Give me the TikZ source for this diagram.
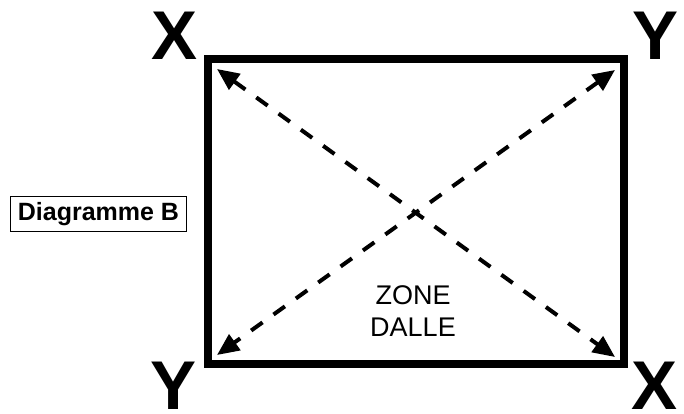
\documentclass[tikz,border=0pt]{standalone}
\usepackage{fontspec}
\setmainfont{Liberation Sans}
\usetikzlibrary{arrows.meta, positioning}

\begin{document}
\begin{tikzpicture}[x=1pt, y=1pt,
    corner/.style={font=\fontsize{69}{69}\selectfont\bfseries, inner sep=0pt},
    diag/.style={line width=4pt, dash pattern=on 14pt off 13.5pt,
      {Triangle[length=22pt, width=19pt]}-{Triangle[length=22pt, width=19pt]}}]
    \useasboundingbox (0,0) rectangle (684,414);

    \node[draw, line width=8pt, minimum width=416pt, minimum height=305pt, inner sep=0pt] (dalle) at (416,202.5) {};

    \node[corner] (xtl) at (175,378) {X};
    \node[corner] (ytr) at (655.5,378) {Y};
    \node[corner] (ybl) at (173.5,28) {Y};
    \node[corner] (xbr) at (654,28) {X};

    \node[draw, line width=1pt, inner xsep=7pt, inner ysep=6pt, font=\fontsize{25}{25}\selectfont\bfseries] (label) at (98.5,200) {Diagramme B};

    \node[align=center, font=\fontsize{27}{32}\selectfont] (zone) at (413,103) {ZONE\\DALLE};

    \coordinate (tl) at (217,345);
    \coordinate (br) at (615,57);
    \coordinate (tr) at (615,344);
    \coordinate (bl) at (217,59);

    \draw[diag] (tl) -- (br);
    \draw[diag] (tr) -- (bl);
\end{tikzpicture}
\end{document}
